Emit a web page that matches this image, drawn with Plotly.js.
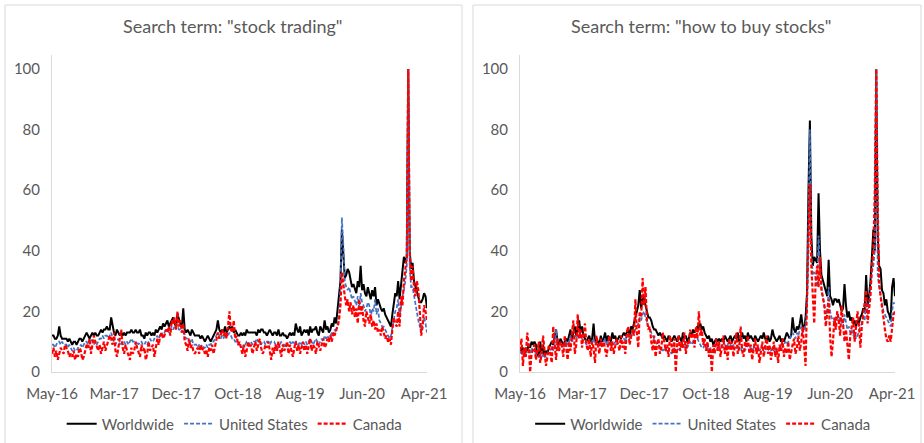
<!DOCTYPE html>
<html><head><meta charset="utf-8">
<script src="https://cdn.plot.ly/plotly-3.0.1.min.js"></script>
<style>html,body{margin:0;padding:0;background:#fff}#chart{width:924px;height:443px}</style>
</head><body><div id="chart"></div>
<script>
// Weekly Google-Trends style index, week 0 = 2016-05-08
const startDate = '2016-05-08';
const tickLabels = ['May-16','Mar-17','Dec-17','Oct-18','Aug-19','Jun-20','Apr-21'];
const tickWeeks = [0,43,86,129,172,215,258];
const seriesNames = ['Worldwide','United States','Canada'];
const panelTitles = ['Search term: "stock trading"','Search term: "how to buy stocks"'];

// "stock trading"
const tradingWorld = [
12,12,11,11,12,15,12,11,11,11, 11,10,11,10,9,10,10,9,10,11,
11,10,11,12,13,12,11,12,13,12, 13,12,12,13,14,13,14,14,15,14,
14,18,15,13,12,14,13,12,13,12, 13,12,13,13,13,14,13,13,14,13,
13,14,12,12,11,13,12,13,13,12, 13,12,14,13,14,15,14,16,15,16,
17,15,16,17,18,16,15,19,17,16, 15,21,14,13,14,13,12,14,13,12,
12,12,12,11,12,11,10,11,12,11, 10,11,12,13,14,17,14,13,14,13,
15,13,14,15,14,15,13,14,13,12, 12,13,12,13,12,14,13,13,13,13,
13,13,12,14,13,14,14,13,13,12, 13,14,13,12,13,13,12,14,12,12,
13,12,12,11,12,13,12,13,12,16, 14,13,15,12,13,14,13,14,12,15,
13,14,14,15,13,12,15,14,13,17, 14,15,13,14,16,15,18,16,20,24,
30,47,40,31,32,34,33,30,28,29, 27,26,30,28,35,27,29,26,25,28,
26,24,27,25,28,22,24,22,21,20, 21,19,18,17,16,15,19,22,26,25,
30,24,28,32,38,36,38,100,40,34, 36,30,28,26,25,23,23,24,26,25,
21];
const tradingUS = [
9,9,8,9,10,10,9,10,9,9, 9,8,9,8,7,8,7,7,8,8,
9,8,9,10,10,9,10,11,10,9, 10,9,10,11,11,12,11,12,12,11,
12,13,11,10,9,10,11,9,10,9, 10,9,10,9,10,11,10,10,9,10,
9,10,10,9,9,10,9,10,11,10, 10,11,11,12,11,12,13,12,13,14,
14,13,14,15,14,15,16,15,14,14, 13,15,12,11,11,10,10,11,9,9,
9,8,9,8,9,8,8,9,8,9, 9,10,10,11,12,13,12,11,12,11,
13,12,12,13,12,11,11,10,10,9, 9,9,8,9,9,10,10,9,10,9,
10,10,11,10,10,9,10,10,9,10, 10,9,10,10,10,9,9,8,9,10,
9,9,8,9,9,10,9,10,9,10, 10,9,10,9,10,9,10,9,10,11,
10,9,10,11,10,9,10,11,10,12, 11,12,11,12,13,12,14,13,16,18,
28,51,42,30,28,27,28,26,24,25, 23,22,25,21,26,23,22,20,21,23,
22,18,21,20,24,19,21,17,16,15, 15,14,13,12,11,12,15,17,20,21,
24,18,22,25,27,30,35,100,35,28, 28,25,22,20,17,15,14,16,18,16,
13];
const tradingCanada = [
6,8,5,7,4,6,8,7,6,9, 8,7,5,6,5,7,4,6,5,8,
7,4,5,7,9,8,11,6,9,12, 10,8,7,9,6,8,10,7,9,10,
12,11,9,13,7,5,9,11,14,8, 6,9,7,5,4,8,6,7,10,8,
6,5,9,7,8,4,6,10,7,8, 9,5,8,11,9,12,13,11,12,14,
13,15,12,17,16,18,14,20,15,17, 13,16,10,9,7,11,8,9,7,6,
7,8,6,9,7,8,6,7,5,8, 7,9,6,8,10,13,11,12,14,12,
13,11,15,20,14,13,17,11,12,9, 10,8,6,9,5,7,10,8,9,6,
8,10,7,9,11,8,6,7,9,8, 10,7,4,8,6,9,7,10,8,5,
9,7,8,10,6,9,7,5,8,10, 7,9,6,8,10,7,9,6,8,11,
7,9,8,6,10,8,7,9,11,8, 9,11,10,12,10,13,12,14,15,17,
22,33,28,25,22,24,20,23,19,22, 18,21,16,24,19,22,17,15,20,18,
16,19,15,17,14,16,13,14,12,15, 13,11,12,10,11,9,14,18,16,15,
20,15,25,22,30,35,38,100,40,30, 35,28,25,30,27,20,12,15,22,20,
17];

// "how to buy stocks"
const buyWorld = [
8,7,8,6,8,7,9,8,10,9, 10,9,6,5,10,6,9,5,7,6,
8,9,10,9,11,14,10,9,11,10, 9,10,11,10,12,14,11,13,15,12,
14,17,13,15,12,11,10,11,12,10, 11,16,10,11,10,9,12,10,11,13,
10,12,11,10,13,11,12,10,11,12, 11,12,13,12,13,14,12,15,14,16,
17,20,22,27,21,24,25,22,20,18, 18,17,15,14,14,13,12,13,12,11,
12,11,10,12,11,10,11,12,11,10, 12,11,10,13,11,12,10,11,13,12,
14,13,14,15,14,16,14,15,13,12, 11,12,10,11,9,10,11,10,11,10,
11,10,12,11,10,11,12,10,11,12, 11,13,10,12,13,11,12,10,13,11,
12,11,10,12,11,10,11,12,11,13, 11,10,12,10,11,14,12,11,10,11,
12,10,11,10,12,13,12,11,12,18, 14,13,15,14,16,19,15,14,18,26,
60,83,45,35,38,37,36,59,40,32, 30,29,26,25,37,25,24,22,24,24,
23,24,22,20,21,29,22,18,20,17, 18,16,17,15,17,16,18,19,21,20,
32,22,25,30,38,47,40,100,45,35, 34,27,26,22,24,20,19,17,28,31,
25];
const buyUS = [
7,6,7,6,7,6,7,6,8,7, 7,6,5,5,6,5,6,5,5,6,
6,7,8,7,9,14,8,7,8,9, 8,9,10,9,10,12,10,11,12,11,
12,13,12,11,10,10,9,10,10,9, 10,11,9,10,9,9,10,9,10,11,
9,10,9,9,10,9,10,9,10,10, 10,11,11,10,12,12,11,12,13,13,
14,15,16,18,17,19,20,18,16,15, 14,13,12,11,10,9,9,8,8,7,
8,7,7,8,7,6,7,8,7,7, 8,7,8,9,8,9,8,9,10,9,
10,11,12,11,10,9,8,8,9,8, 8,7,8,7,7,8,9,8,8,9,
9,8,9,8,9,10,9,8,9,8, 8,9,8,7,8,8,7,8,9,8,
8,7,8,8,7,8,7,8,8,7, 7,8,7,8,7,8,7,8,7,8,
8,9,8,9,10,9,10,11,12,13, 12,11,13,12,14,15,13,14,16,20,
50,80,40,32,33,30,28,45,33,28, 24,22,20,19,28,20,18,17,16,18,
20,17,18,16,15,19,17,14,15,13, 14,12,13,11,12,14,15,16,18,17,
24,19,22,28,33,35,40,100,32,28, 25,22,20,19,18,17,16,15,20,23,
22];
const buyCanada = [
7,11,2,8,5,13,9,0,6,8, 9,4,7,10,3,6,12,8,2,5,
9,6,3,15,8,4,11,7,10,9, 5,12,8,4,10,7,13,17,6,9,
19,11,14,8,12,16,9,7,11,5, 10,8,3,12,9,6,11,8,10,7,
5,9,12,7,10,6,8,11,9,7, 12,8,10,6,13,15,9,11,14,12,
24,13,8,20,18,31,22,28,17,14, 15,10,7,12,5,9,11,6,8,13,
10,7,9,5,12,8,6,11,0,9, 12,7,10,8,13,6,10,9,14,11,
13,8,15,11,20,12,14,9,11,7, 10,5,8,0,9,6,11,7,10,5,
8,12,6,9,4,11,7,10,5,9, 13,6,8,15,7,5,10,8,12,6,
9,4,8,11,6,9,3,7,10,5, 8,12,6,9,4,7,10,5,8,3,
9,7,11,5,8,6,10,4,7,9, 11,6,8,12,7,10,15,9,2,24,
45,62,35,25,16,30,35,28,38,27, 25,22,15,20,24,12,5,10,18,14,
20,17,12,22,16,10,14,10,4,12, 15,18,10,14,20,16,8,15,19,22,
27,16,20,25,35,40,60,100,55,30, 25,22,18,14,11,10,12,10,15,19,
20];

// weekly category dates
const weeks = [];
(function(){
  const d0 = new Date(startDate + 'T00:00:00Z');
  for (let i = 0; i < tradingWorld.length; i++) {
    const d = new Date(d0.getTime() + i * 7 * 86400000);
    weeks.push(d.toISOString().slice(0,10));
  }
})();

const colors = ['#000000','#4472C4','#FF0000'];
const widths = [2, 1.7, 2.2];
const dashes = ['solid','4px,2px','4px,2px'];

function mk(y, k, xa, ya, lg) {
  return {x: weeks, y: y, type: 'scatter', mode: 'lines', name: seriesNames[k],
    xaxis: xa, yaxis: ya, legend: lg, hoverinfo: 'skip',
    line: {color: colors[k], width: widths[k], dash: dashes[k]}};
}
const traces = [
  mk(tradingWorld, 0, 'x', 'y', 'legend'),
  mk(tradingUS, 1, 'x', 'y', 'legend'),
  mk(tradingCanada, 2, 'x', 'y', 'legend'),
  mk(buyWorld, 0, 'x2', 'y2', 'legend2'),
  mk(buyUS, 1, 'x2', 'y2', 'legend2'),
  mk(buyCanada, 2, 'x2', 'y2', 'legend2')
];

const txt = '#595959';
const fnt = {family: 'Lato, "Open Sans", sans-serif', size: 15, color: txt};
const tv = tickWeeks.map(i => weeks[i]);
function xax(dom, anchor) {
  return {domain: dom, anchor: anchor, type: 'date', range: [weeks[0], weeks[weeks.length-1]],
    tickvals: tv, ticktext: tickLabels, ticks: '', showgrid: false, zeroline: false,
    showline: true, linecolor: '#d9d9d9', linewidth: 1, tickfont: fnt, ticklabelstandoff: 8, fixedrange: true};
}
function yax(anchor) {
  return {domain: [0.1603, 0.8758], anchor: anchor, range: [0, 104.6], tickvals: [0,20,40,60,80,100],
    ticks: '', showgrid: false, zeroline: false, showline: true, linecolor: '#d9d9d9', linewidth: 1,
    tickfont: fnt, ticklabelstandoff: 8, fixedrange: true};
}
const legBase = {orientation: 'h', font: fnt, itemwidth: 30, bgcolor: 'rgba(0,0,0,0)',
  xanchor: 'center', yanchor: 'middle', y: 0.043, tracegroupgap: 0, itemclick: false};

const layout = {
  width: 924, height: 443, margin: {l: 0, r: 0, t: 0, b: 0},
  paper_bgcolor: '#ffffff', plot_bgcolor: '#ffffff',
  font: fnt,
  xaxis: xax([0.0563, 0.4621], 'y'),
  yaxis: yax('x'),
  xaxis2: xax([0.5628, 0.9686], 'y2'),
  yaxis2: yax('x2'),
  legend: Object.assign({x: 0.254}, legBase),
  legend2: Object.assign({x: 0.761}, legBase),
  annotations: [
    {text: panelTitles[0], xref: 'paper', yref: 'paper', x: 0.252, y: 0.941, showarrow: false,
      xanchor: 'center', yanchor: 'middle', font: {family: fnt.family, size: 18, color: txt}},
    {text: panelTitles[1], xref: 'paper', yref: 'paper', x: 0.759, y: 0.941, showarrow: false,
      xanchor: 'center', yanchor: 'middle', font: {family: fnt.family, size: 18, color: txt}}
  ],
  shapes: [
    {type: 'rect', xref: 'paper', yref: 'paper', x0: 5/924, x1: 462/924, y0: -0.01, y1: 1-5/443,
      line: {color: '#d9d9d9', width: 1}},
    {type: 'rect', xref: 'paper', yref: 'paper', x0: 473/924, x1: 921/924, y0: -0.01, y1: 1-5/443,
      line: {color: '#d9d9d9', width: 1}}
  ],
  showlegend: true
};
Plotly.newPlot('chart', traces, layout, {staticPlot: true, displayModeBar: false});
</script></body></html>
